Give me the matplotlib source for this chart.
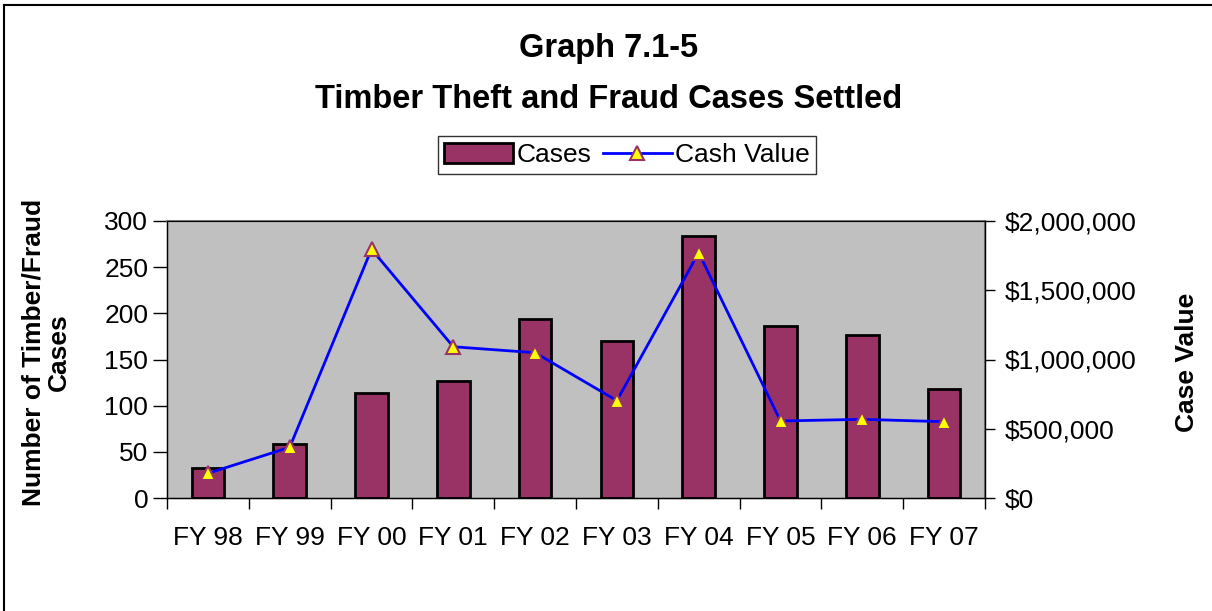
import matplotlib
matplotlib.use("Agg")
import matplotlib.pyplot as plt
from matplotlib.ticker import FuncFormatter, FixedLocator
from matplotlib.lines import Line2D
import numpy as np

plt.rcParams['font.family'] = ['Liberation Sans', 'DejaVu Sans']

years = ["FY 98", "FY 99", "FY 00", "FY 01", "FY 02", "FY 03", "FY 04", "FY 05", "FY 06", "FY 07"]
cases = [33, 59, 114, 127, 194, 170, 284, 186, 176, 118]
cash_value = [178000, 366000, 1796000, 1092000, 1049000, 703000, 1771000, 556000, 568000, 551000]

bar_color = "#993366"
line_color = "#0000FF"

W, H = 1212, 611
fig = plt.figure(figsize=(W / 100, H / 100), dpi=100)
ax = fig.add_axes([167 / W, 1 - 498 / H, (985 - 167) / W, (498 - 221) / H])
ax.set_facecolor("#C0C0C0")

x = np.arange(len(years))
ax.bar(x, cases, width=0.4, color=bar_color, edgecolor="black", linewidth=2, zorder=2)
ax.set_xlim(-0.5, len(years) - 0.5)
ax.set_ylim(0, 300)
ax.set_yticks(range(0, 301, 50))
ax.tick_params(axis="y", labelsize=19, length=10, width=1, direction="out", pad=3.5)

# ticks at category boundaries, labels at centers
ax.xaxis.set_major_locator(FixedLocator(np.arange(-0.5, len(years), 1.0)))
ax.xaxis.set_major_formatter(FuncFormatter(lambda v, p: ""))
ax.xaxis.set_minor_locator(FixedLocator(x))
ax.set_xticklabels(years, minor=True)
ax.tick_params(axis="x", which="major", length=8, width=1, direction="out")
ax.tick_params(axis="x", which="minor", length=0, labelsize=19, pad=20)

for s in ax.spines.values():
    s.set_color("#808080")
    s.set_linewidth(1.5)
ax.spines["left"].set_color("black")
ax.spines["left"].set_linewidth(1)
ax.spines["bottom"].set_color("black")
ax.spines["bottom"].set_linewidth(1)

ax2 = ax.twinx()
ax2.plot(x, cash_value, color=line_color, linewidth=2, marker="^", markersize=10,
         markerfacecolor="#FFFF00", markeredgecolor=bar_color, markeredgewidth=1.5, zorder=3)
ax2.set_ylim(0, 2000000)
ax2.set_yticks(range(0, 2000001, 500000))
ax2.yaxis.set_major_formatter(FuncFormatter(lambda v, p: "${:,.0f}".format(v)))
ax2.tick_params(axis="y", labelsize=19, length=7, width=1, direction="out", pad=7)
ax2.spines["right"].set_color("black")
ax2.spines["right"].set_linewidth(1)

fig.text(609 / W, 1 - 49 / H, "Graph 7.1-5", ha="center", va="center", fontsize=23.5, fontweight="bold")
fig.text(609 / W, 1 - 99 / H, "Timber Theft and Fraud Cases Settled", ha="center", va="center",
         fontsize=23.5, fontweight="bold")

fig.text(46 / W, 1 - 352 / H, "Number of Timber/Fraud\nCases", ha="center", va="center",
         rotation=90, fontsize=19, fontweight="bold", linespacing=1.1)
fig.text(1187 / W, 1 - 362 / H, "Case Value", ha="center", va="center",
         rotation=90, fontsize=19, fontweight="bold")

handles = [
    plt.Rectangle((0, 0), 1, 1, facecolor=bar_color, edgecolor="black", linewidth=2),
    Line2D([], [], color=line_color, linewidth=2, marker="^", markersize=10,
           markerfacecolor="#FFFF00", markeredgecolor=bar_color, markeredgewidth=1.5),
]
leg = fig.legend(handles, ["Cases", "Cash Value"], loc="center", bbox_to_anchor=(627 / W, 1 - 155 / H),
                 ncol=2, fontsize=19, frameon=True, fancybox=False, edgecolor="black",
                 handlelength=2.6, handleheight=0.8, handletextpad=0.12, columnspacing=0.45,
                 borderpad=0.25, borderaxespad=0)
leg.get_frame().set_linewidth(1)

# outer chart border (left and top visible)
fig.add_artist(Line2D([4 / W, 4 / W], [0, 1 - 5 / H], color="black", linewidth=1.5))
fig.add_artist(Line2D([4 / W, 1], [1 - 5 / H, 1 - 5 / H], color="black", linewidth=1.5))

fig.savefig("out.png", dpi=100)
